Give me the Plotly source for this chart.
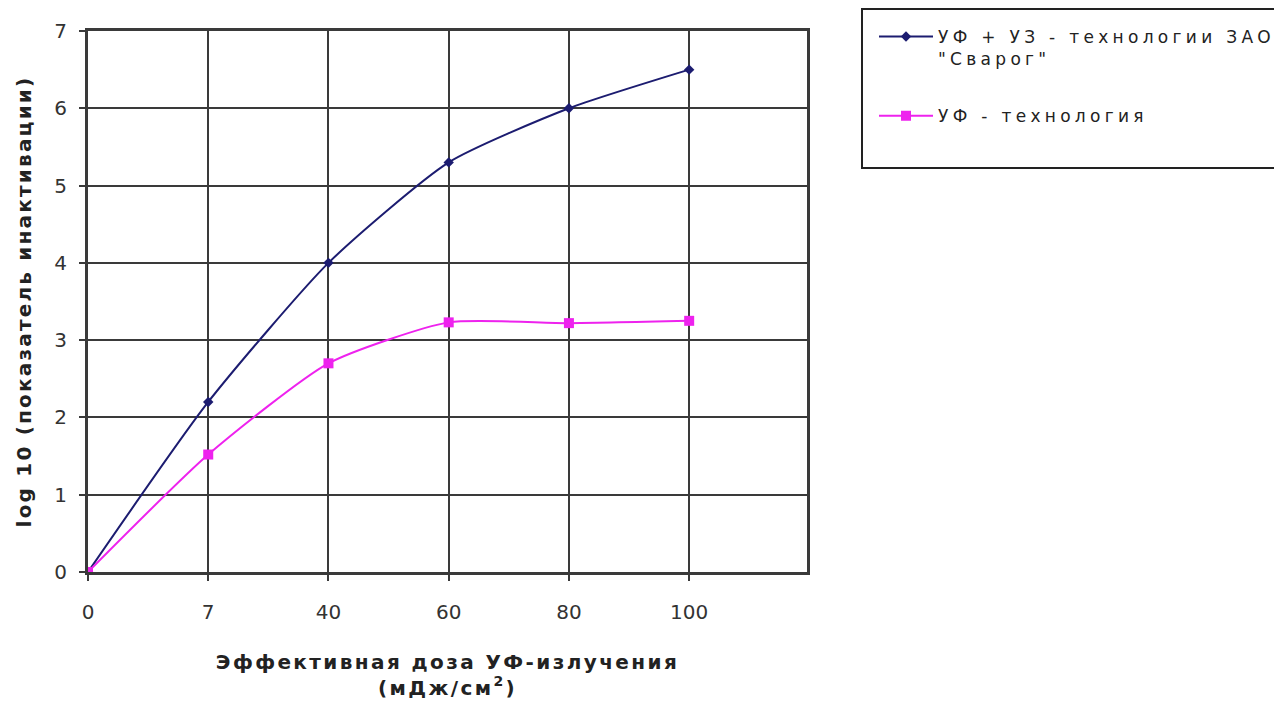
import plotly.graph_objects as go

doses = ["0", "7", "40", "60", "80", "100"]
uf_uz = [0, 2.2, 4.0, 5.3, 6.0, 6.5]
uf = [0, 1.52, 2.7, 3.23, 3.22, 3.25]
name_uf_uz = ["УФ + УЗ - технологии ЗАО", "\"Сварог\""]
name_uf = "УФ - технология"
y_ticks = [0, 1, 2, 3, 4, 5, 6, 7]
x_title = ["Эффективная доза УФ-излучения", "(мДж/см<sup>2</sup>)"]
y_title = "log 10 (показатель инактивации)"

FONT = "DejaVu Sans, Liberation Sans, Arial, sans-serif"


def spaced(s, ls):
    return f'<span style="letter-spacing:{ls}px">{s}</span>'


# page has an 8px body margin, so figure coords = page coords - 8
OFF = 8
W, H = 1274, 695
L, R, T, B = 88 - OFF, 807 - OFF, 31 - OFF, 572 - OFF
pw, ph = R - L, B - T


def px_x(xp):
    return (xp - OFF - L) / pw


def px_y(yp):
    return (B - (yp - OFF)) / ph


NAVY = "#1c1c70"
MAG = "#ee22ee"

fig = go.Figure()
fig.add_trace(go.Scatter(
    x=doses, y=uf_uz,
    name="<br>".join(spaced(s, 4.3) for s in name_uf_uz),
    legendgroup="a", mode="lines+markers",
    line=dict(color=NAVY, width=2, shape="spline", smoothing=0.6),
    marker=dict(symbol="diamond", size=8, color=NAVY),
))
fig.add_trace(go.Scatter(
    x=doses, y=uf, name=spaced(name_uf, 4.3),
    legendgroup="b", mode="lines+markers",
    line=dict(color=MAG, width=2, shape="spline", smoothing=0.6),
    marker=dict(symbol="square", size=10, color=MAG),
))

fig.update_layout(
    width=W, height=H,
    margin=dict(l=L, r=W - R, t=T, b=H - B, autoexpand=False),
    paper_bgcolor="white", plot_bgcolor="white",
    font=dict(family=FONT, size=16, color="#222"),
    showlegend=True,
    legend=dict(
        x=px_x(874), y=px_y(19), xanchor="left", yanchor="top",
        bgcolor="rgba(0,0,0,0)", borderwidth=0,
        font=dict(family=FONT, size=17, color="#222"),
        itemwidth=54, tracegroupgap=32, valign="top",
    ),
    shapes=[dict(
        type="rect", xref="paper", yref="paper",
        x0=px_x(862), x1=px_x(1300),
        y0=px_y(168), y1=px_y(9),
        line=dict(color="#222", width=2), fillcolor="rgba(0,0,0,0)",
    )],
    xaxis=dict(
        type="category", range=[0, 5.98],
        tickvals=doses, ticktext=doses,
        showgrid=True, gridcolor="#3a3a3a", gridwidth=2,
        showline=True, linecolor="#3a3a3a", linewidth=3, mirror=True,
        ticks="outside", ticklen=6, tickcolor="#3a3a3a", tickwidth=2,
        ticklabelstandoff=14,
        tickfont=dict(size=20, color="#333"),
        zeroline=False,
        title=dict(
            text="<b>" + "<br>".join(spaced(s, 2.4) for s in x_title) + "</b>",
            font=dict(size=20, color="#222"), standoff=32,
        ),
    ),
    yaxis=dict(
        range=[0, 7], tickvals=y_ticks,
        showgrid=True, gridcolor="#3a3a3a", gridwidth=2,
        showline=True, linecolor="#3a3a3a", linewidth=3, mirror=True,
        ticks="outside", ticklen=6, tickcolor="#3a3a3a", tickwidth=2,
        ticklabelstandoff=8,
        tickfont=dict(size=20, color="#333"),
        zeroline=False,
        title=dict(
            text="<b>" + spaced(y_title, 2.2) + "</b>",
            font=dict(size=20, color="#222"), standoff=18,
        ),
    ),
)

fig.write_html("out.html")
